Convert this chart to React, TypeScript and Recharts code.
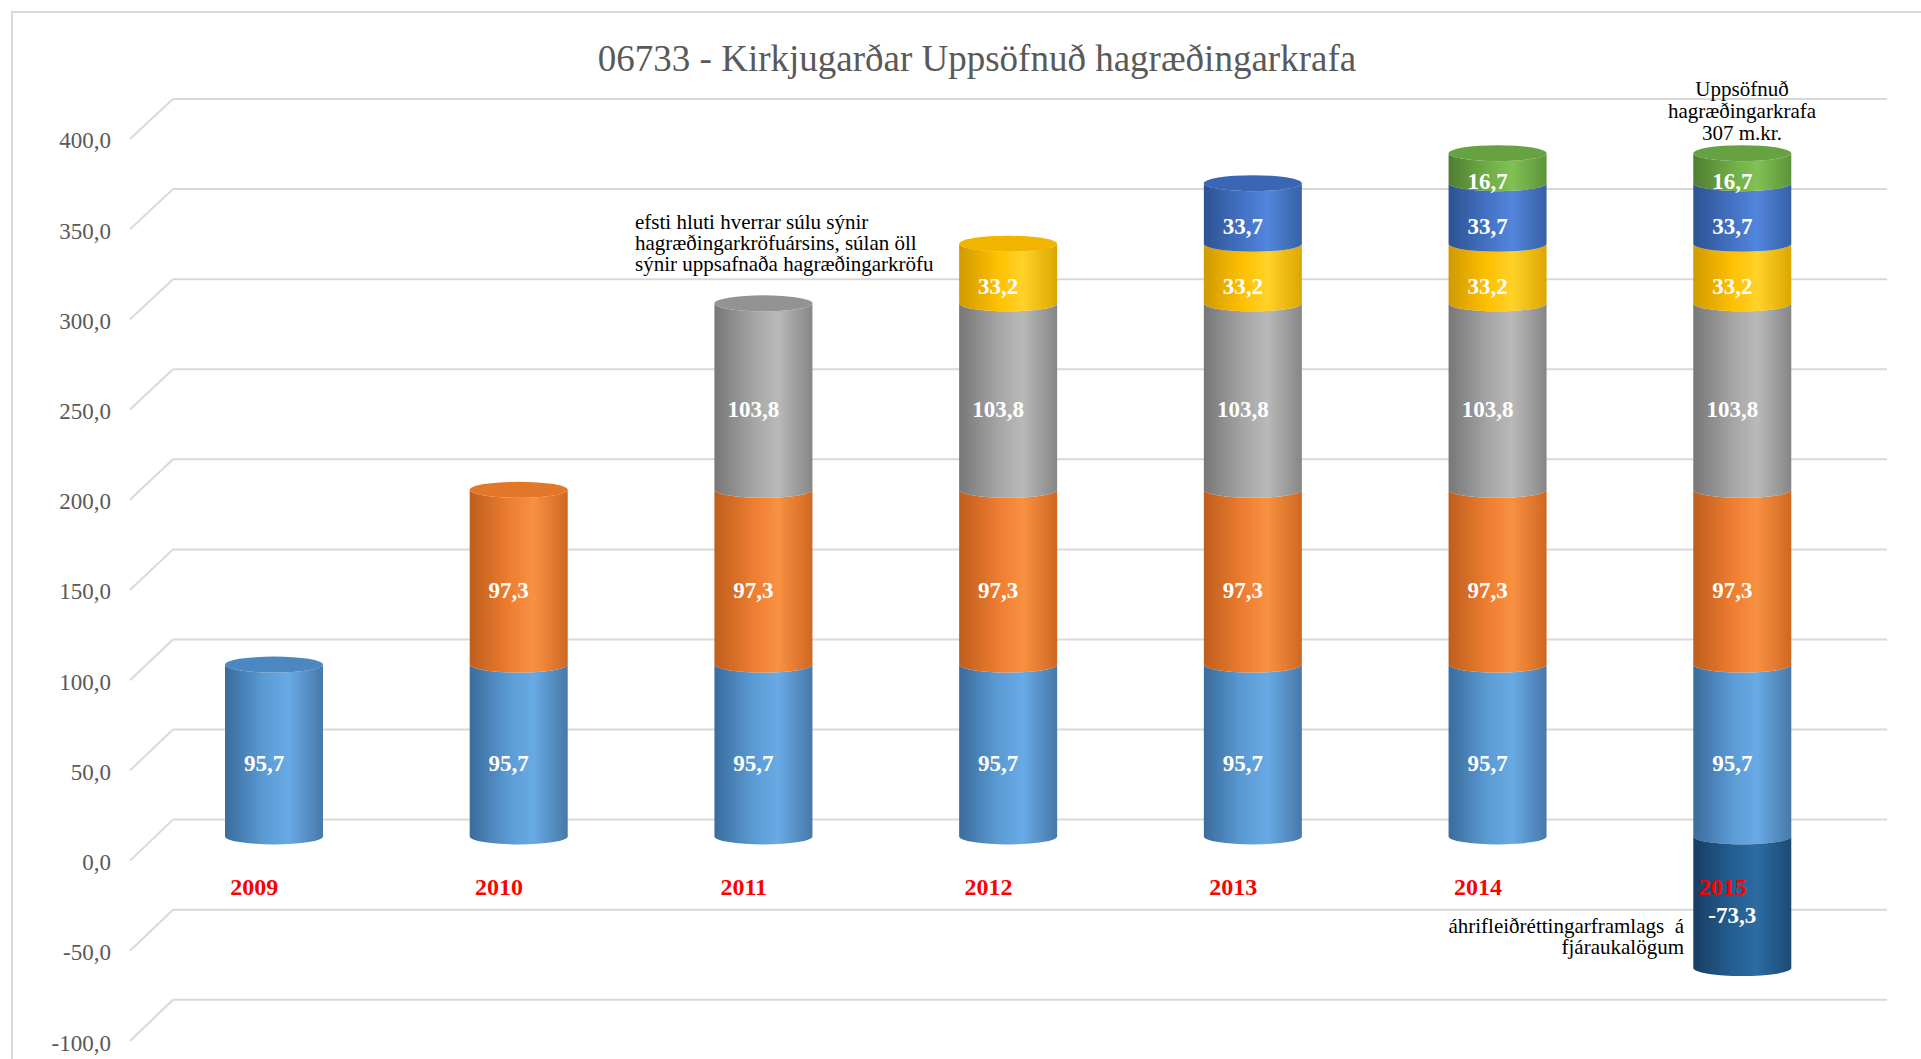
import React from 'react';
import { BarChart, Bar, XAxis, YAxis, CartesianGrid, LabelList } from 'recharts';

const categories = ['2009', '2010', '2011', '2012', '2013', '2014', '2015'];
const krafa2009 = [95.7, 95.7, 95.7, 95.7, 95.7, 95.7, 95.7];
const krafa2010 = [null, 97.3, 97.3, 97.3, 97.3, 97.3, 97.3];
const krafa2011 = [null, null, 103.8, 103.8, 103.8, 103.8, 103.8];
const krafa2012 = [null, null, null, 33.2, 33.2, 33.2, 33.2];
const krafa2013 = [null, null, null, null, 33.7, 33.7, 33.7];
const krafa2014 = [null, null, null, null, null, 16.7, 16.7];
const leidretting = [null, null, null, null, null, null, -73.3];
const yTicks = [-100, -50, 0, 50, 100, 150, 200, 250, 300, 350, 400];

const W = 1921;
const H = 1059;
const PLOT_LEFT = 152;
const PLOT_RIGHT = 1865;
const PLOT_TOP = 118;
const PLOT_BOTTOM = 1016;
const Y_MIN = -100;
const Y_MAX = 400;
const zeroY = PLOT_TOP + ((Y_MAX - 0) / (Y_MAX - Y_MIN)) * (PLOT_BOTTOM - PLOT_TOP);
const SERIF = '"Liberation Serif", "Times New Roman", serif';
const RY = 8;
// perspective: axis labels and back wall use a slightly different scale than the bar plane
const LABEL_ZERO = zeroY + 26.2;
const LABEL_K = 1.0045;
const GRID_ZERO = zeroY - 16.8;
const GRID_K = 1.003;
const labelY = (y: number) => LABEL_ZERO + (y - zeroY) * LABEL_K;
const gridY = (y: number) => GRID_ZERO + (y - zeroY) * GRID_K;
const BACK_X = 173;

const series = [
  { key: 'k2009', values: krafa2009, stops: ['#3a6c9c', '#5b9bd5', '#68aae5', '#4778a9'], cap: '#4b88c2' },
  { key: 'k2010', values: krafa2010, stops: ['#bf5e1c', '#ed7d31', '#f99142', '#cf6722'], cap: '#e27629' },
  { key: 'k2011', values: krafa2011, stops: ['#777777', '#a5a5a5', '#b9b9b9', '#868686'], cap: '#939393' },
  { key: 'k2012', values: krafa2012, stops: ['#d09a00', '#ffc000', '#ffd22a', '#dca600'], cap: '#f1b400' },
  { key: 'k2013', values: krafa2013, stops: ['#2c5391', '#4472c4', '#5286dc', '#3760a6'], cap: '#3a66b6' },
  { key: 'k2014', values: krafa2014, stops: ['#4f7d31', '#70ad47', '#80c154', '#5c9439'], cap: '#66a242' },
  { key: 'adj', values: leidretting, stops: ['#173d62', '#255e91', '#2c6ba3', '#1c4a74'], cap: '#214f7a' },
];

const data = categories.map((c, i) => {
  const row: any = { year: c };
  series.forEach((s) => {
    row[s.key] = s.values[i];
  });
  return row;
});

const positiveKeys = series.filter((s) => s.key !== 'adj').map((s) => s.key);

function topKey(payload: any) {
  let k = '';
  positiveKeys.forEach((key) => {
    if (payload && payload[key] != null && payload[key] > 0) k = key;
  });
  return k;
}

function fmt(v: number) {
  return v.toFixed(1).replace('.', ',');
}

function makeShape(key: string, cap: string) {
  return (props: any) => {
    const { x, y, width, height, payload } = props;
    if (height == null || Math.abs(height) < 0.5 || width == null) return <g />;
    const top = Math.min(y, y + height);
    const bot = Math.max(y, y + height);
    const rx = width / 2;
    const cx = x + rx;
    const d = `M${x},${top} A${rx},${RY} 0 0 0 ${x + width},${top} L${x + width},${bot} A${rx},${RY} 0 0 1 ${x},${bot} Z`;
    const isTop = topKey(payload) === key;
    return (
      <g>
        <path d={d} fill={`url(#grad-${key})`} />
        {isTop && <ellipse cx={cx} cy={top} rx={rx} ry={RY} fill={cap} />}
      </g>
    );
  };
}

const renderLabel = (props: any) => {
  const { x, y, width, height, value } = props;
  if (value == null || !height || Math.abs(height) < 0.5) return null;
  const top = Math.min(y, y + height);
  const bot = Math.max(y, y + height);
  return (
    <text
      x={x + width / 2 - 10}
      y={(top + bot) / 2 + 13}
      textAnchor="middle"
      dominantBaseline="central"
      fill="#ffffff"
      fontWeight="bold"
      fontSize={23}
      fontFamily={SERIF}
    >
      {fmt(value)}
    </text>
  );
};

const YTick = (props: any) => {
  const { y, payload } = props;
  const ly = labelY(y);
  return (
    <g>
      <text x={111} y={ly} textAnchor="end" dominantBaseline="central" fill="#595959" fontSize={23} fontFamily={SERIF}>
        {fmt(payload.value)}
      </text>
      <line x1={130} y1={ly - 2} x2={BACK_X} y2={gridY(y)} stroke="#d9d9d9" strokeWidth={2} />
    </g>
  );
};

const XTick = (props: any) => {
  const { x, payload } = props;
  return (
    <text
      x={x - 20}
      y={zeroY + 50.5}
      textAnchor="middle"
      dominantBaseline="central"
      fill="#ff0000"
      fontWeight="bold"
      fontSize={24}
      fontFamily={SERIF}
    >
      {payload.value}
    </text>
  );
};

const gridLine = (props: any) => {
  const { y1, key, index } = props;
  const gy = gridY(y1);
  return (
    <line
      key={key ?? `g-${index}-${y1}`}
      x1={BACK_X}
      y1={gy}
      x2={1887}
      y2={gy}
      stroke="#d9d9d9"
      strokeWidth={2}
    />
  );
};

export default function App() {
  return (
    <div style={{ position: 'absolute', left: 0, top: 0, width: W, height: H, overflow: 'hidden', background: '#ffffff' }}>
      <svg width={W} height={H} style={{ position: 'absolute', left: 0, top: 0 }}>
        <rect x={12} y={12} width={W + 20} height={H + 20} fill="none" stroke="#d9d9d9" strokeWidth={2} />
      </svg>
      <div style={{ position: 'absolute', left: 0, top: 0 }}>
        <BarChart
          width={W}
          height={H}
          data={data}
          stackOffset="sign"
          margin={{ top: PLOT_TOP, right: W - PLOT_RIGHT, left: 0, bottom: 0 }}
          barSize={98}
        >
          <defs>
            {series.map((s) => (
              <linearGradient key={s.key} id={`grad-${s.key}`} x1="0" y1="0" x2="1" y2="0">
                <stop offset="0%" stopColor={s.stops[0]} />
                <stop offset="40%" stopColor={s.stops[1]} />
                <stop offset="65%" stopColor={s.stops[2]} />
                <stop offset="100%" stopColor={s.stops[3]} />
              </linearGradient>
            ))}
          </defs>
          <CartesianGrid vertical={false} horizontal={gridLine} />
          <XAxis
            dataKey="year"
            height={H - PLOT_BOTTOM}
            axisLine={false}
            tickLine={false}
            tick={<XTick />}
            interval={0}
          />
          <YAxis
            width={PLOT_LEFT}
            domain={[Y_MIN, Y_MAX]}
            ticks={yTicks}
            axisLine={false}
            tickLine={false}
            tick={<YTick />}
            interval={0}
            allowDataOverflow
          />
          {series.map((s) => (
            <Bar key={s.key} dataKey={s.key} stackId="a" isAnimationActive={false} shape={makeShape(s.key, s.cap)}>
              <LabelList dataKey={s.key} content={renderLabel} />
            </Bar>
          ))}
        </BarChart>
      </div>
      <svg width={W} height={H} style={{ position: 'absolute', left: 0, top: 0, pointerEvents: 'none' }}>
        <text x={977} y={58} textAnchor="middle" dominantBaseline="central" fill="#595959" fontSize={37} fontFamily={SERIF}>
          06733 - Kirkjugarðar Uppsöfnuð hagræðingarkrafa
        </text>
        <g fontFamily={SERIF} fontSize={21} fill="#000000">
          <text x={635} y={222} dominantBaseline="central">efsti hluti hverrar súlu sýnir</text>
          <text x={635} y={243} dominantBaseline="central">hagræðingarkröfuársins, súlan öll</text>
          <text x={635} y={264} dominantBaseline="central">sýnir uppsafnaða hagræðingarkröfu</text>
          <text x={1742} y={89} textAnchor="middle" dominantBaseline="central">Uppsöfnuð</text>
          <text x={1742} y={111} textAnchor="middle" dominantBaseline="central">hagræðingarkrafa</text>
          <text x={1742} y={133} textAnchor="middle" dominantBaseline="central">307 m.kr.</text>
          <text x={1684} y={926} textAnchor="end" dominantBaseline="central" style={{ whiteSpace: 'pre' }}>
            {'áhrifleiðréttingarframlags  á'}
          </text>
          <text x={1684} y={947} textAnchor="end" dominantBaseline="central">fjáraukalögum</text>
        </g>
      </svg>
    </div>
  );
}
